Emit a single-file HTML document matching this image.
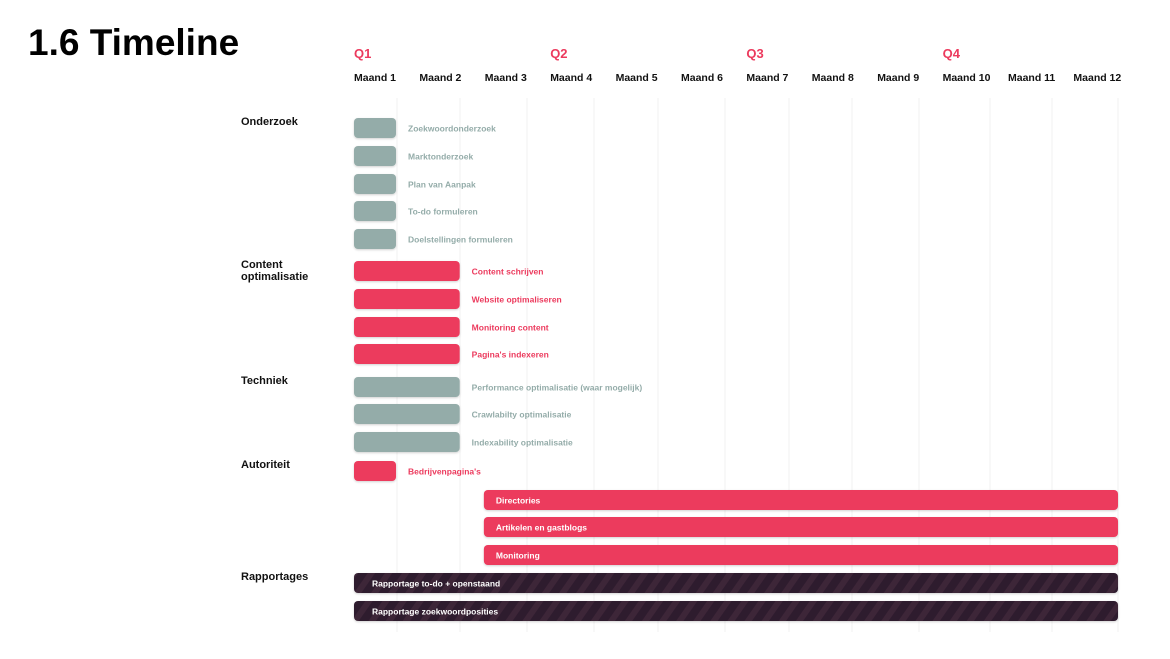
<!DOCTYPE html>
<html><head><meta charset="utf-8">
<style>
html,body{margin:0;padding:0;background:#fff;}
body{width:1170px;height:654px;overflow:hidden;font-family:"Liberation Sans",sans-serif;}
text{font-family:"Liberation Sans",sans-serif;}
</style></head>
<body>
<svg id="chart" width="1170" height="654" viewBox="0 0 1170 654">
<defs>
<pattern id="stripes" patternUnits="userSpaceOnUse" width="14" height="14" patternTransform="rotate(35)">
<rect width="14" height="14" fill="#2f1a2d"/><rect width="6" height="14" fill="#3d2639"/>
</pattern>
<filter id="sh" x="-5%" y="-20%" width="110%" height="160%"><feDropShadow dx="0" dy="1" stdDeviation="1" flood-color="#000" flood-opacity="0.18"/></filter>
</defs>
<text x="28" y="55" font-size="37" font-weight="bold" fill="#000">1.6 Timeline</text>
<g id="grid"></g>
<g id="axis"></g>
<g id="cats"></g>
<g id="bars"></g>
</svg>
<script>
const months = ["Maand 1","Maand 2","Maand 3","Maand 4","Maand 5","Maand 6","Maand 7","Maand 8","Maand 9","Maand 10","Maand 11","Maand 12"];
const quarters = ["Q1","Q2","Q3","Q4"];
const categories = ["Onderzoek","Content|optimalisatie","Techniek","Autoriteit","Rapportages"];
const categoryRow = [0,5,9,12,16];
const tasks = ["Zoekwoordonderzoek","Marktonderzoek","Plan van Aanpak","To-do formuleren","Doelstellingen formuleren","Content schrijven","Website optimaliseren","Monitoring content","Pagina's indexeren","Performance optimalisatie (waar mogelijk)","Crawlabilty optimalisatie","Indexability optimalisatie","Bedrijvenpagina's","Directories","Artikelen en gastblogs","Monitoring","Rapportage to-do + openstaand","Rapportage zoekwoordposities"];
const taskStart = [0,0,0,0,0,0,0,0,0,0,0,0,0,2.04,2.04,2.04,0,0];
const taskEnd = [0.66,0.66,0.66,0.66,0.66,1.66,1.66,1.66,1.66,1.66,1.66,1.66,0.66,12,12,12,12,12];
const taskType = ["grey","grey","grey","grey","grey","pink","pink","pink","pink","grey","grey","grey","pink","pink","pink","pink","dark","dark"];
const rowY = [128,156,184,211,239,271,299,327,354,387,414,442,471,500,527,555,583,611];

const X0=354, X1=1118;
const x = m => X0 + m*(X1-X0)/12;
const colors = {grey:"#94aca9",pink:"#ec3a5d",dark:"url(#stripes)"};
const labelColors = {grey:"#94aca9",pink:"#ec3a5d",dark:"#fff"};
const NS="http://www.w3.org/2000/svg";
function mk(tag, attrs, parent){const e=document.createElementNS(NS,tag);for(const k in attrs)e.setAttribute(k,attrs[k]);parent.appendChild(e);return e;}

const gridXs=[397,460,527,594,658,725,789,852,919,990,1052,1118];
const grid=document.getElementById('grid');
gridXs.forEach(gx=>{const l=mk('line',{x1:gx,x2:gx,y1:98,y2:632,stroke:"#f1f1f1","stroke-width":1},grid);

});

const axis=document.getElementById('axis');
const colW=65.4;
months.forEach((m,i)=>{const t=mk('text',{x:354+i*colW,y:81,"font-size":10.5,"font-weight":"bold",fill:"#111"},axis);t.textContent=m;

});
quarters.forEach((q,i)=>{const t=mk('text',{x:354+i*3*colW,y:58,"font-size":13,"font-weight":"bold",fill:"#ec3a5d"},axis);t.textContent=q;

});

const cats=document.getElementById('cats');
categories.forEach((c,i)=>{const y=rowY[categoryRow[i]]-3;const t=mk('text',{x:241,y:y,"font-size":11,"font-weight":"bold",fill:"#111"},cats);


c.split('|').forEach((p,j)=>{const s=mk('tspan',{x:241,dy:j?12:0},t);s.textContent=p;});});

const bars=document.getElementById('bars');
tasks.forEach((name,i)=>{
 const x0=x(taskStart[i]), x1=x(taskEnd[i]), y=rowY[i];
 const r=mk('rect',{x:x0,y:y-10,width:x1-x0,height:20,rx:4,fill:colors[taskType[i]],filter:"url(#sh)"},bars);
 
 
 const long=(taskEnd[i]-taskStart[i])>5;
 const t=mk('text',{x:long?x0+(taskType[i]==="dark"?18:12):x1+12,y:y+3.5,"font-size":8.5,"font-weight":"bold",fill:long?"#fff":labelColors[taskType[i]]},bars);
 t.textContent=name;
 
 
});
</script>
</body></html>
